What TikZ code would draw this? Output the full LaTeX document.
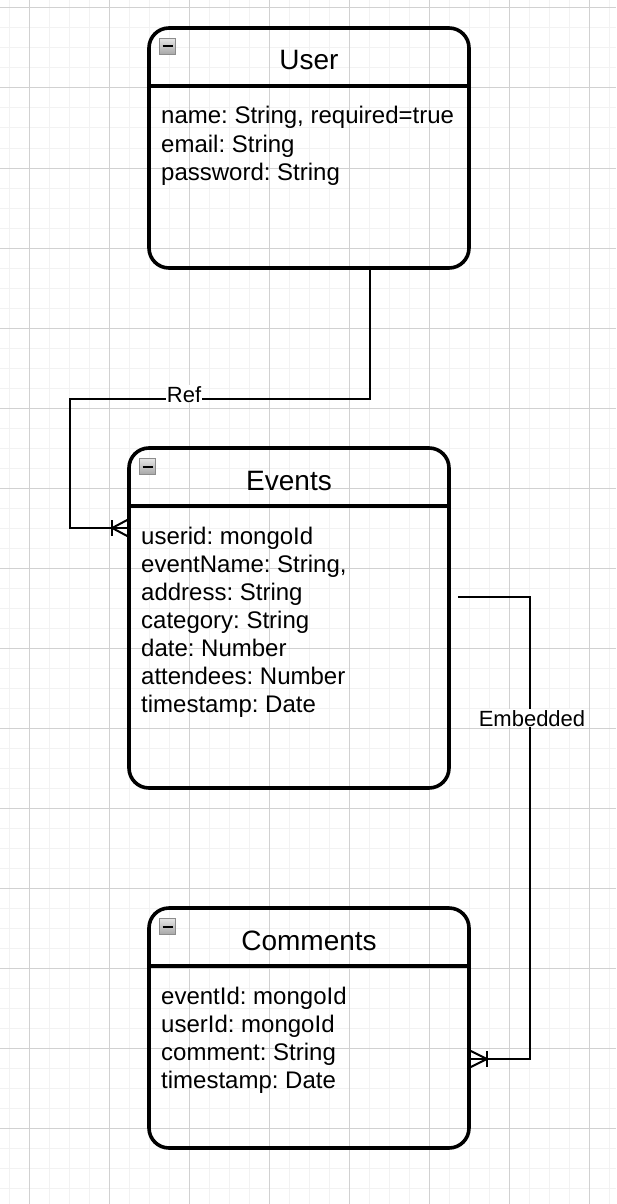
\documentclass[tikz,border=0pt]{standalone}
\usepackage{fontspec}
\setmainfont{Liberation Sans}
\frenchspacing
\begin{document}
\begin{tikzpicture}[x=1pt,y=-1pt,
  minorgrid/.style={draw=black!5,line width=1pt},
  majorgrid/.style={draw=black!18,line width=1pt},
  entity/.style={draw=black,line width=3.6pt,rounded corners=20pt,rectangle,inner sep=0pt,minimum width=320pt},
  sepline/.style={draw=black,line width=3.6pt},
  conn/.style={draw=black,line width=2pt},
  title/.style={font=\fontsize{28}{32}\selectfont,anchor=base,inner sep=0pt},
  body/.style={font=\fontsize{24}{28}\selectfont\frenchspacing,anchor=base west,inner sep=0pt},
  lbl/.style={font=\fontsize{22}{26}\selectfont,anchor=base,fill=white,inner sep=1pt},
  icon/.style={draw=black!45,top color=black!10,bottom color=black!35,line width=1pt,rectangle,minimum size=16pt,inner sep=0pt}
]
\useasboundingbox (0,0) rectangle (616,1204);
% grid
\foreach \x in {9,29,...,609} \draw[minorgrid] (\x,0) -- (\x,1204);
\foreach \y in {8,28,...,1200} \draw[minorgrid] (0,\y) -- (616,\y);
\foreach \x in {29,109,...,609} \draw[majorgrid] (\x,0) -- (\x,1204);
\foreach \y in {8,88,...,1200} \draw[majorgrid] (0,\y) -- (616,\y);

% entities
\node[entity,minimum height=240pt] (user) at (309,148) {};
\node[entity,minimum height=340pt] (events) at (289,618) {};
\node[entity,minimum height=240pt] (comments) at (309,1028) {};

\draw[sepline] ([yshift=-60pt]user.north west) -- ([yshift=-60pt]user.north east);
\draw[sepline] ([yshift=-60pt]events.north west) -- ([yshift=-60pt]events.north east);
\draw[sepline] ([yshift=-60pt]comments.north west) -- ([yshift=-60pt]comments.north east);

% icons
\foreach \n/\cx/\cy in {iu/167.5/46.5, ie/147.5/466.5, ic/167.5/926.5} {
  \node[icon] (\n) at (\cx,\cy) {};
  \draw[black,line width=2pt] ([xshift=-5pt]\n.center) -- ([xshift=5pt]\n.center);
}

% titles
\node[title] (usertitle) at (309,70) {User};
\node[title] (eventstitle) at (289,490) {Events};
\node[title] (commentstitle) at (309,950) {Comments};

% bodies
\node[body] (u1) at (161,124) {name: String, required=true};
\node[body] (u2) at (161,152) {email: String};
\node[body] (u3) at (161,180) {password: String};

\node[body] (e1) at (141,544) {userid: mongoId};
\node[body] (e2) at (141,572) {eventName: String,};
\node[body] (e3) at (141,600) {address: String};
\node[body] (e4) at (141,628) {category: String};
\node[body] (e5) at (141,656) {date: Number};
\node[body] (e6) at (141,684) {attendees: Number};
\node[body] (e7) at (141,712) {timestamp: Date};

\node[body] (c1) at (161,1004) {eventId: mongoId};
\node[body] (c2) at (161,1032) {userId: mongoId};
\node[body] (c3) at (161,1060) {comment: String};
\node[body] (c4) at (161,1088) {timestamp: Date};

% Ref connector
\coordinate (ra) at (70,399);
\coordinate (etgt) at ([yshift=90pt]events.west);
\draw[conn] ([xshift=61pt]user.south) |- (ra) |- (etgt);
\draw[conn] ([xshift=-15pt]etgt) -- ([yshift=8pt]etgt);
\draw[conn] ([xshift=-15pt]etgt) -- ([yshift=-8pt]etgt);
\draw[conn] ([xshift=-15pt,yshift=8pt]etgt) -- ([xshift=-15pt,yshift=-8pt]etgt);
\node[lbl] (reflabel) at (184,402) {Ref};

% Embedded connector
\coordinate (es) at ([xshift=7pt,yshift=21pt]events.east);
\coordinate (ecorner) at (530,597);
\coordinate (ctgt) at ([yshift=-31pt]comments.east);
\draw[conn] (es) -- (ecorner) |- (ctgt);
\draw[conn] ([xshift=16pt]ctgt) -- ([yshift=8pt]ctgt);
\draw[conn] ([xshift=16pt]ctgt) -- ([yshift=-8pt]ctgt);
\draw[conn] ([xshift=16pt,yshift=8pt]ctgt) -- ([xshift=16pt,yshift=-8pt]ctgt);
\node[lbl] (emblabel) at (532,726) {Embedded};
\end{tikzpicture}
\end{document}
